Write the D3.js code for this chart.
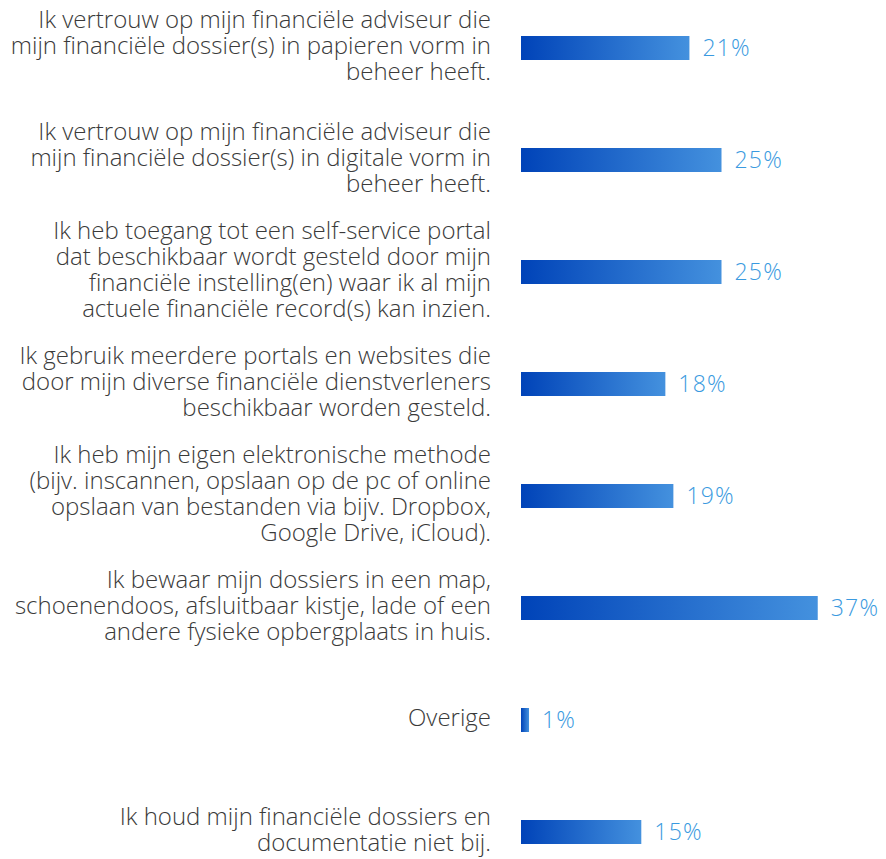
<!DOCTYPE html>
<html>
<head>
<meta charset="utf-8">
<script src="https://cdn.jsdelivr.net/npm/d3@7"></script>
<style>
  html, body { margin: 0; padding: 0; background: #fff; }
  svg { display: block; }
</style>
</head>
<body>
<div id="chart"></div>
<script>
(function() {

  // labels, one entry per line of text
  const categories = [
    ['Ik vertrouw op mijn financiële adviseur die', 'mijn financiële dossier(s) in papieren vorm in', 'beheer heeft.'],
    ['Ik vertrouw op mijn financiële adviseur die', 'mijn financiële dossier(s) in digitale vorm in', 'beheer heeft.'],
    ['Ik heb toegang tot een self-service portal', 'dat beschikbaar wordt gesteld door mijn', 'financiële instelling(en) waar ik al mijn', 'actuele financiële record(s) kan inzien.'],
    ['Ik gebruik meerdere portals en websites die', 'door mijn diverse financiële dienstverleners', 'beschikbaar worden gesteld.'],
    ['Ik heb mijn eigen elektronische methode', '(bijv. inscannen, opslaan op de pc of online', 'opslaan van bestanden via bijv. Dropbox,', 'Google Drive, iCloud).'],
    ['Ik bewaar mijn dossiers in een map,', 'schoenendoos, afsluitbaar kistje, lade of een', 'andere fysieke opbergplaats in huis.'],
    ['Overige'],
    ['Ik houd mijn financiële dossiers en', 'documentatie niet bij.']
  ];
  const values = [21, 25, 25, 18, 19, 37, 1, 15];

  const width = 886;
  const height = 859;
  const barLeft = 521;
  const labelRight = 491;
  const barHeight = 24;
  const lineHeight = 26.2;

  const svg = d3.select('#chart')
    .append('svg')
    .attr('width', width)
    .attr('height', height);

  const defs = svg.append('defs');
  const grad = defs.append('linearGradient')
    .attr('id', 'barGrad')
    .attr('x1', '0%').attr('x2', '100%')
    .attr('y1', '0%').attr('y2', '0%');
  grad.append('stop').attr('offset', '0%').attr('stop-color', '#0043b8');
  grad.append('stop').attr('offset', '100%').attr('stop-color', '#4491de');

  const data = categories.map((c, i) => ({ id: i, lines: c, value: values[i] }));

  const y = d3.scalePoint()
    .domain(data.map(d => d.id))
    .range([48, 832]);

  const x = d3.scaleLinear()
    .domain([0, 100])
    .range([0, 802]);

  const rows = svg.selectAll('.row')
    .data(data)
    .enter()
    .append('g')
      .attr('class', 'row')
      .attr('transform', d => `translate(0, ${y(d.id)})`);

  rows.append('rect')
    .attr('x', barLeft)
    .attr('y', -barHeight / 2)
    .attr('width', d => x(d.value))
    .attr('height', barHeight)
    .attr('fill', 'url(#barGrad)');

  rows.append('text')
    .attr('x', d => barLeft + x(d.value) + 13)
    .attr('y', 8)
    .attr('font-family', '"Open Sans", sans-serif')
    .attr('font-weight', 300)
    .attr('font-size', 23)
    .attr('letter-spacing', 1.2)
    .attr('fill', '#3a9ae0')
    .text(d => d.value + '%');

  const labels = rows.append('text')
    .attr('text-anchor', 'end')
    .attr('font-family', '"Open Sans", sans-serif')
    .attr('font-weight', 300)
    .attr('font-size', 24)
    .attr('fill', '#3a3a3a');

  labels.selectAll('tspan')
    .data(d => d.lines.map((l, i) => ({ text: l, i: i, n: d.lines.length })))
    .enter()
    .append('tspan')
      .attr('x', labelRight)
      .attr('y', t => (t.i - (t.n - 1) / 2) * lineHeight + 6)
      .text(t => t.text);
}());
</script>
</body>
</html>
